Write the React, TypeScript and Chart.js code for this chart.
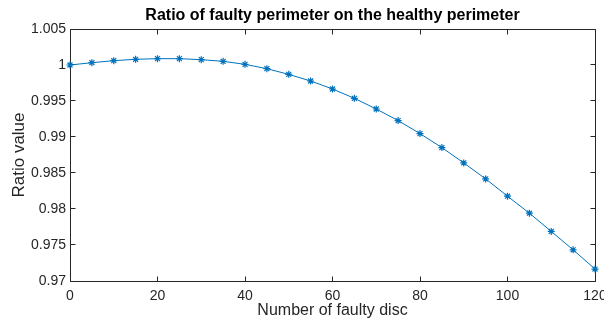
import React, { useEffect, useRef } from "react";
import { Chart, registerables } from "chart.js";

Chart.register(...registerables);

const TITLE = "Ratio of faulty perimeter on the healthy perimeter";
const X_LABEL = "Number of faulty disc";
const Y_LABEL = "Ratio value";

const FAULTY_DISCS = [0, 5, 10, 15, 20, 25, 30, 35, 40, 45, 50, 55, 60, 65, 70, 75, 80, 85, 90, 95, 100, 105, 110, 115, 120];
const RATIO_VALUES = [
  1.0, 1.00032, 1.0006, 1.00079, 1.00088, 1.00088, 1.00074, 1.00051, 1.00009, 0.99949,
  0.9987, 0.99778, 0.99667, 0.99537, 0.99389, 0.99228, 0.99047, 0.98853, 0.9864, 0.98418,
  0.98178, 0.97942, 0.97688, 0.97433, 0.97166,
];
const X_TICKS = [0, 20, 40, 60, 80, 100, 120];
const Y_TICKS = [0.97, 0.975, 0.98, 0.985, 0.99, 0.995, 1, 1.005];

const FONT = "'Liberation Sans', Arial, Helvetica, sans-serif";
const AXIS_COLOR = "#262626";
const LINE_COLOR = "#0072BD";

const boxPlugin = {
  id: "matlabBox",
  beforeDatasetsDraw(chart: any) {
    const { ctx, chartArea: a, scales } = chart;
    const xs = scales.x;
    const ys = scales.y;
    const L = Math.floor(a.left) + 0.5;
    const R = Math.floor(a.right) + 0.5;
    const T = Math.floor(a.top) + 0.5;
    const B = Math.floor(a.bottom) + 0.5;
    const len = 5;
    ctx.save();
    ctx.strokeStyle = AXIS_COLOR;
    ctx.lineWidth = 1;
    ctx.beginPath();
    ctx.rect(L, T, R - L, B - T);
    xs.ticks.forEach((t: any) => {
      const p = Math.floor(xs.getPixelForValue(t.value)) + 0.5;
      ctx.moveTo(p, B);
      ctx.lineTo(p, B - len);
      ctx.moveTo(p, T);
      ctx.lineTo(p, T + len);
    });
    ys.ticks.forEach((t: any) => {
      const p = Math.floor(ys.getPixelForValue(t.value)) + 0.5;
      ctx.moveTo(L, p);
      ctx.lineTo(L + len, p);
      ctx.moveTo(R, p);
      ctx.lineTo(R - len, p);
    });
    ctx.stroke();
    ctx.restore();
  },
};

export default function App() {
  const canvasRef = useRef<HTMLCanvasElement | null>(null);

  useEffect(() => {
    const canvas = canvasRef.current;
    if (!canvas) return;
    const chart = new Chart(canvas, {
      type: "line",
      data: {
        datasets: [
          {
            data: FAULTY_DISCS.map((x, i) => ({ x, y: RATIO_VALUES[i] })),
            borderColor: LINE_COLOR,
            backgroundColor: LINE_COLOR,
            borderWidth: 1,
            pointStyle: "star",
            pointRadius: 3.5,
            pointBorderWidth: 1.2,
            pointBorderColor: LINE_COLOR,
            tension: 0,
            fill: false,
            clip: false as any,
          },
        ],
      },
      options: {
        animation: false,
        responsive: false,
        devicePixelRatio: 1,
        layout: { padding: { left: 0, right: 9, top: 0, bottom: 0 } },
        plugins: {
          legend: { display: false },
          tooltip: { enabled: false },
          title: {
            display: true,
            text: TITLE,
            color: "#000000",
            fullSize: false,
            font: { family: FONT, size: 16, weight: "bold" },
            padding: { top: 6, bottom: 3.8 },
          },
        },
        scales: {
          x: {
            type: "linear",
            min: 0,
            max: 120,
            afterBuildTicks: (s: any) => {
              s.ticks = X_TICKS.map((v) => ({ value: v }));
            },
            afterFit: (s: any) => {
              s.height = 40;
              s.paddingLeft = 0;
              s.paddingRight = 0;
            },
            ticks: {
              color: AXIS_COLOR,
              font: { family: FONT, size: 14 },
              padding: 7,
              maxRotation: 0,
              autoSkip: false,
              callback: (v: any) => String(v),
            },
            grid: { display: false, drawTicks: false },
            border: { display: false },
            title: {
              display: true,
              text: X_LABEL,
              color: AXIS_COLOR,
              font: { family: FONT, size: 16 },
              padding: { top: 0, bottom: 1 },
            },
          },
          y: {
            type: "linear",
            min: 0.97,
            max: 1.005,
            afterBuildTicks: (s: any) => {
              s.ticks = Y_TICKS.map((v) => ({ value: v }));
            },
            afterFit: (s: any) => {
              s.width = 70;
              s.paddingTop = 0;
              s.paddingBottom = 0;
            },
            ticks: {
              color: AXIS_COLOR,
              font: { family: FONT, size: 14 },
              padding: 4,
              autoSkip: false,
              callback: (v: any) => String(parseFloat(Number(v).toFixed(3))),
            },
            grid: { display: false, drawTicks: false },
            border: { display: false },
            title: {
              display: true,
              text: Y_LABEL,
              color: AXIS_COLOR,
              font: { family: FONT, size: 17 },
              padding: { top: 9, bottom: 0 },
            },
          },
        },
      } as any,
      plugins: [boxPlugin],
    });
    return () => chart.destroy();
  }, []);

  return (
    <div
      style={{
        position: "fixed",
        left: 0,
        top: 0,
        width: 604,
        height: 321,
        background: "#ffffff",
        overflow: "hidden",
      }}
    >
      <canvas ref={canvasRef} width={604} height={321} style={{ display: "block", width: 604, height: 321 }} />
    </div>
  );
}
